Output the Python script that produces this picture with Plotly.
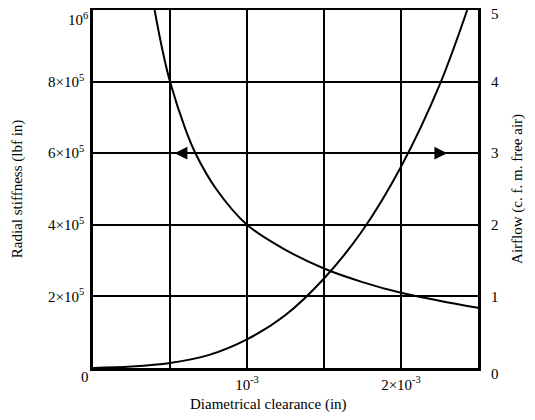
import plotly.graph_objects as go

# Data (clearance in inches)
stiff_c = [0.40e-3, 0.45e-3, 0.50e-3, 0.60e-3, 0.665e-3, 0.80e-3, 1.00e-3, 1.25e-3, 1.50e-3, 1.75e-3, 2.00e-3, 2.25e-3, 2.50e-3]
stiff_k = [10.0e5, 8.9e5, 8.0e5, 6.67e5, 6.0e5, 5.0e5, 4.0e5, 3.3e5, 2.78e5, 2.40e5, 2.10e5, 1.88e5, 1.68e5]

air_c = [0.0, 0.25e-3, 0.50e-3, 0.75e-3, 1.00e-3, 1.25e-3, 1.50e-3, 1.75e-3, 2.00e-3, 2.25e-3, 2.43e-3]
air_q = [0.0, 0.02, 0.07, 0.18, 0.40, 0.74, 1.25, 1.92, 2.81, 3.95, 5.0]

x_tickvals = [0.5e-3, 1e-3, 1.5e-3, 2e-3]
x_ticktext = ["", "10<sup>-3</sup>", "", "2×10<sup>-3</sup>"]
y_tickvals = [2e5, 4e5, 6e5, 8e5, 1e6]
y_ticktext = ["2×10<sup>5</sup>", "4×10<sup>5</sup>", "6×10<sup>5</sup>", "8×10<sup>5</sup>", ""]
y_top_label = "10<sup>6</sup>"
y2_tickvals = [0, 1, 2, 3, 4, 5]
y2_ticktext = ["", "1", "2", "3", "4", ""]
y2_top_label = "5"
y2_bottom_label = "0"

FONT = "Liberation Serif"

fig = go.Figure()
fig.add_trace(go.Scatter(x=stiff_c, y=stiff_k, mode="lines", line=dict(color="black", width=2, shape="spline"),
                         showlegend=False, yaxis="y"))
fig.add_trace(go.Scatter(x=air_c, y=air_q, mode="lines", line=dict(color="black", width=2, shape="spline"),
                         showlegend=False, yaxis="y2"))

# page body has an 8px margin, so the figure is 527x412 placed at (8, 8)
fig.update_layout(
    width=527, height=412,
    margin=dict(l=85, r=57, t=2, b=52, autoexpand=False),
    paper_bgcolor="white", plot_bgcolor="white",
    font=dict(family=FONT, size=15, color="black"),
    xaxis=dict(range=[0, 2.5e-3], tickvals=x_tickvals, ticktext=x_ticktext,
               showgrid=True, gridcolor="black", gridwidth=1.5,
               showline=True, linecolor="black", linewidth=2.5, mirror=True,
               ticks="", zeroline=False, automargin=False, ticklabelstandoff=1),
    yaxis=dict(range=[0, 1e6], tickvals=y_tickvals, ticktext=y_ticktext,
               showgrid=True, gridcolor="black", gridwidth=1.5,
               showline=True, linecolor="black", linewidth=2.5, mirror=True,
               ticks="", zeroline=False, automargin=False, ticklabelstandoff=3,
               ticklabeloverflow="allow"),
    yaxis2=dict(range=[0, 5], tickvals=y2_tickvals, ticktext=y2_ticktext, overlaying="y", side="right",
                showgrid=False, ticks="", zeroline=False, showline=False, automargin=False,
                ticklabelstandoff=12, ticklabeloverflow="allow"),
)

# corner zero
fig.add_annotation(x=0, y=0, xref="x", yref="y", text="0", showarrow=False,
                   xanchor="right", yanchor="top", xshift=-2, yshift=1, font=dict(size=15))
# top labels (kept inside the drawing area)
fig.add_annotation(x=0, y=1e6, xref="x", yref="y", text=y_top_label, showarrow=False,
                   xanchor="right", yanchor="top", xshift=-3, yshift=2, font=dict(size=15))
fig.add_annotation(x=2.5e-3, y=5, xref="x", yref="y2", text=y2_top_label, showarrow=False,
                   xanchor="left", yanchor="top", xshift=11, yshift=6, font=dict(size=15))
fig.add_annotation(x=2.5e-3, y=0, xref="x", yref="y2", text=y2_bottom_label, showarrow=False,
                   xanchor="left", yanchor="middle", xshift=11, yshift=-6, font=dict(size=15))

# Arrows
fig.add_annotation(x=0.53e-3, y=6e5, ax=0.66e-3, ay=6e5, xref="x", yref="y", axref="x", ayref="y",
                   text="", showarrow=True, arrowhead=2, arrowsize=1.7, arrowwidth=1.5, arrowcolor="black")
fig.add_annotation(x=2.30e-3, y=6e5, ax=2.05e-3, ay=6e5, xref="x", yref="y", axref="x", ayref="y",
                   text="", showarrow=True, arrowhead=2, arrowsize=1.7, arrowwidth=1.5, arrowcolor="black")

# Axis titles
fig.add_annotation(x=-0.197, y=0.5, xref="paper", yref="paper", text="Radial stiffness (lbf in)",
                   showarrow=False, textangle=-90, xanchor="center", yanchor="middle", font=dict(size=15))
fig.add_annotation(x=1.101, y=0.5, xref="paper", yref="paper", text="Airflow (c. f. m. free air)",
                   showarrow=False, textangle=-90, xanchor="center", yanchor="middle", font=dict(size=15))
fig.add_annotation(x=0.455, y=-0.103, xref="paper", yref="paper", text="Diametrical clearance (in)",
                   showarrow=False, xanchor="center", yanchor="middle", font=dict(size=15))

fig.write_html("out.html")
